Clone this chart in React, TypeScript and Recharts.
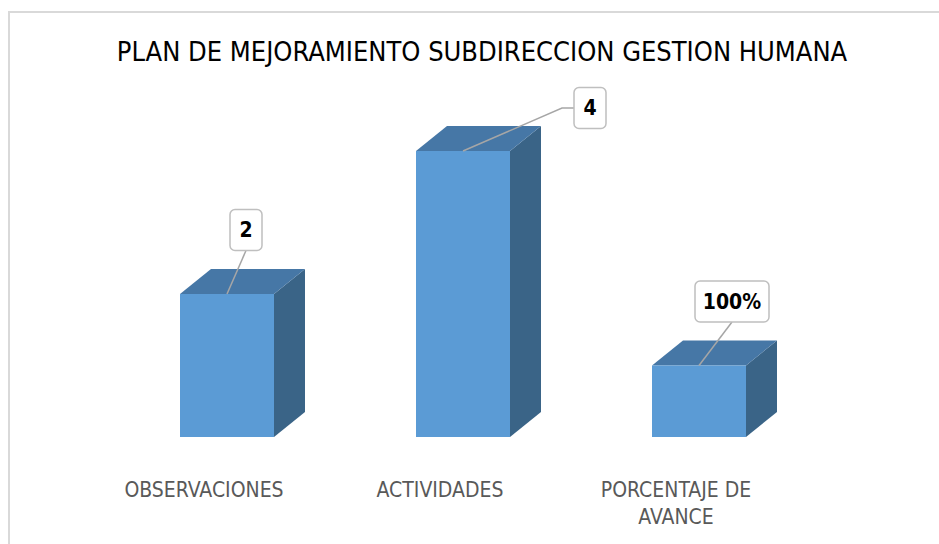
import React from 'react';
import { BarChart, Bar, XAxis, YAxis, LabelList, Customized, Text } from 'recharts';

const categories = ['OBSERVACIONES', 'ACTIVIDADES', 'PORCENTAJE DE AVANCE'];
const values = [2, 4, 1];
const valueLabels = ['2', '4', '100%'];

const data = categories.map((name, i) => ({ name, value: values[i], label: valueLabels[i] }));

const FONT = '"Liberation Sans Narrow", "DejaVu Sans Condensed", "Open Sans", sans-serif';
const DEPTH_X = 31;
const DEPTH_Y = 25;

// manual label box offsets (like Excel moved labels) relative to the top of the front face
const labelOffsets = [
  { dx: 19, dy: -64 },
  { dx: 127, dy: -43 },
  { dx: 33, dy: -64 },
];

const Bar3D = (props: any) => {
  const { x, y, width, height } = props;
  if (height <= 0) return null;
  const front = `M${x},${y} h${width} v${height} h${-width} Z`;
  const top = `M${x},${y} l${DEPTH_X},${-DEPTH_Y} h${width} l${-DEPTH_X},${DEPTH_Y} Z`;
  const side = `M${x + width},${y} l${DEPTH_X},${-DEPTH_Y} v${height} l${-DEPTH_X},${DEPTH_Y} Z`;
  return (
    <g>
      <path d={side} fill="#3A6487" />
      <path d={top} fill="#4677A6" />
      <path d={front} fill="#5B9BD5" />
    </g>
  );
};

const BoxLabel = (props: any) => {
  const { x, y, width, index, value } = props;
  const off = labelOffsets[index];
  const cx = x + width / 2;
  const bx = cx + off.dx;
  const by = y + off.dy;
  const w = String(value).length > 2 ? 74 : 32;
  const h = 41;
  const horizontal = off.dx > 80;
  const line = horizontal
    ? `M${bx - w / 2},${by} h-12 L${cx},${y}`
    : `M${bx},${by + h / 2} L${cx},${y}`;
  return (
    <g>
      <path d={line} stroke="#A6A6A6" strokeWidth={1.5} fill="none" />
      <rect x={bx - w / 2} y={by - h / 2} width={w} height={h} rx={5} ry={5}
        fill="#fff" stroke="#BFBFBF" strokeWidth={1.5} />
      <text x={bx} y={by + 7} textAnchor="middle" fontFamily={FONT}
        fontSize={21} fontWeight="bold" fill="#000">{value}</text>
    </g>
  );
};

const CategoryTick = (props: any) => {
  const { x, y, payload } = props;
  return (
    <Text x={x - 23} y={y + 37} width={170} textAnchor="middle" verticalAnchor="start"
      fontFamily={FONT} fontSize={21} fill="#595959" lineHeight={27}>
      {payload.value}
    </Text>
  );
};

const Title = () => (
  <text x={482} y={61} textAnchor="middle" fontFamily={FONT} fontSize={27} fill="#000">
    PLAN DE MEJORAMIENTO SUBDIRECCION GESTION HUMANA
  </text>
);

export default function App() {
  return (
    <div style={{ position: 'relative', width: 939, height: 544, overflow: 'hidden', background: '#fff' }}>
      <style>{'body{margin:0}'}</style>
      <div style={{ position: 'absolute', left: 8, top: 11, width: 1000, height: 600, border: '2px solid #D9D9D9' }} />
      <div style={{ position: 'absolute', left: 0, top: 0 }}>
        <BarChart width={939} height={544} data={data}
          margin={{ top: 151, right: 122, left: 109, bottom: 47 }}>
          <XAxis dataKey="name" height={60} axisLine={false} tickLine={false}
            tick={<CategoryTick />} interval={0} />
          <YAxis hide domain={[0, 4]} />
          <Customized component={Title} />
          <Bar dataKey="value" barSize={94} shape={<Bar3D />} isAnimationActive={false}>
            <LabelList dataKey="label" content={<BoxLabel />} />
          </Bar>
        </BarChart>
      </div>
    </div>
  );
}
